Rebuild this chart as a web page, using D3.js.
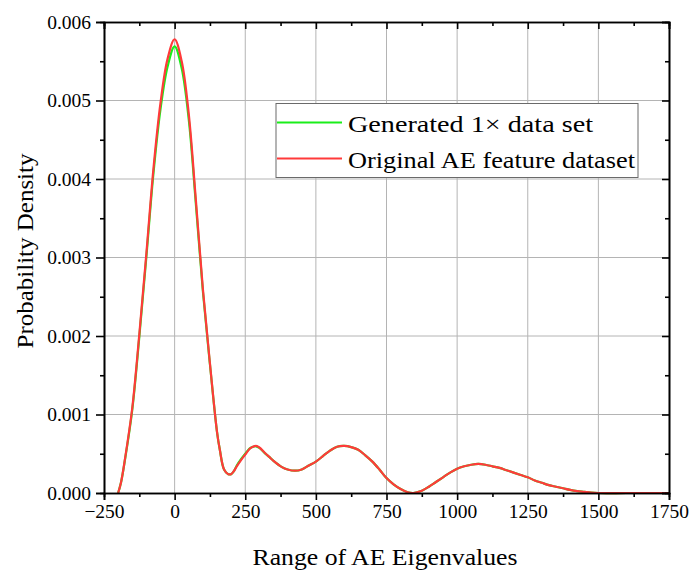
<!DOCTYPE html>
<html>
<head>
<meta charset="utf-8">
<script src="https://cdn.jsdelivr.net/npm/d3@7"></script>
<style>
  body { margin: 0; background: #fff; }
  svg text { font-family: "Liberation Serif", "DejaVu Serif", serif; fill: #000; }
</style>
</head>
<body>
<div id="chart"></div>
<script>
// Values.
var xValues = [-200, -190, -175, -150, -125, -100, -75, -50, -25, 0, 25, 50, 75, 100, 125, 150, 160, 175, 190, 200,
  210, 220, 235, 250, 265, 275, 288, 300, 320, 335, 350, 380, 400, 426, 450, 475, 500, 525, 550, 575, 600, 625, 650, 675,
  700, 725, 750, 775, 800, 825, 845, 875, 900, 925, 950, 975, 1000, 1025, 1050, 1075, 1100, 1125, 1150, 1175,
  1200, 1225, 1250, 1275, 1300, 1325, 1350, 1375, 1400, 1425, 1450, 1475, 1500, 1600, 1750];

var originalDensity = [0, 0.00013, 0.00045, 0.00108, 0.00202, 0.00305, 0.00413, 0.00497, 0.00553, 0.00578, 0.00550,
  0.00483, 0.00374, 0.00260, 0.00165, 0.00078, 0.00055, 0.00030, 0.00024, 0.00024,
  0.00028, 0.00034, 0.00042, 0.00049, 0.00056, 0.000585, 0.00060, 0.00058, 0.00051, 0.00046, 0.00041, 0.00033, 0.00030, 0.000284,
  0.00030, 0.00035, 0.00040, 0.00047, 0.00054, 0.00059, 0.00060, 0.000585, 0.00055, 0.00048,
  0.00040, 0.00030, 0.00019, 0.00011, 0.00005, 0.00001, 0, 0.00003, 0.00008, 0.00014, 0.00020, 0.00026,
  0.00031, 0.00034, 0.00036, 0.00037, 0.00036, 0.00034, 0.00032, 0.00029,
  0.00026, 0.00023, 0.00020, 0.00016, 0.00013, 0.00010, 0.00008, 0.00006, 0.00004, 0.000025, 0.000015, 0.000005,
  0, 0, 0];

var generatedDensity = [0, 0.00013, 0.00044, 0.00106, 0.00199, 0.00301, 0.00407, 0.00489, 0.00543, 0.00569, 0.00541,
  0.00476, 0.00369, 0.00257, 0.00164, 0.00078, 0.00055, 0.00030, 0.00024, 0.00024,
  0.00028, 0.00035, 0.00043, 0.00050, 0.000565, 0.000585, 0.000595, 0.000575, 0.000505, 0.00046, 0.00041, 0.00033, 0.00030, 0.000284,
  0.00030, 0.00035, 0.00040, 0.00047, 0.00054, 0.00059, 0.00060, 0.000585, 0.00055, 0.00048,
  0.00040, 0.00030, 0.00019, 0.00011, 0.00005, 0.00001, 0, 0.00003, 0.00008, 0.00014, 0.00020, 0.00026,
  0.00031, 0.00034, 0.00036, 0.00037, 0.00036, 0.00034, 0.00032, 0.00029,
  0.00026, 0.00023, 0.00020, 0.00016, 0.00013, 0.00010, 0.00008, 0.00006, 0.00004, 0.000025, 0.000015, 0.000005,
  0, 0, 0];

var xTicks = [-250, 0, 250, 500, 750, 1000, 1250, 1500, 1750];
var yTicks = [0, 0.001, 0.002, 0.003, 0.004, 0.005, 0.006];
var seriesNames = ["Generated 1\u00d7 data set", "Original AE feature dataset"];
var seriesColors = ["#1aee1a", "#ff3a3a"];

var width = 689, height = 572;
var margin = {top: 22, right: 20, bottom: 79, left: 104};
var plotW = width - margin.left - margin.right;
var plotH = height - margin.top - margin.bottom;

var svg = d3.select("#chart").append("svg")
  .attr("width", width)
  .attr("height", height);

var g = svg.append("g")
  .attr("transform", "translate(" + margin.left + "," + margin.top + ")");

var x = d3.scaleLinear().domain([-250, 1750]).range([0, plotW]);
var y = d3.scaleLinear().domain([0, 0.006]).range([plotH, 0]);

// minor ticks sit halfway between the majors
var xMinor = xTicks.slice(0, -1).map(function(d) { return d + 125; });
var yMinor = yTicks.slice(0, -1).map(function(d) { return d + 0.0005; });

// Grid lines
g.append("g").selectAll("line")
  .data(xTicks.slice(1, -1))
  .enter().append("line")
  .attr("x1", d => x(d)).attr("x2", d => x(d))
  .attr("y1", 0).attr("y2", plotH)
  .attr("stroke", "#b4b4b4").attr("stroke-width", 1);

g.append("g").selectAll("line")
  .data(yTicks.slice(1, -1))
  .enter().append("line")
  .attr("x1", 0).attr("x2", plotW)
  .attr("y1", d => y(d)).attr("y2", d => y(d))
  .attr("stroke", "#b4b4b4").attr("stroke-width", 1);

// Curves
var line = d3.line()
  .x((d, i) => x(xValues[i]))
  .y(d => y(Math.max(0, d)))
  .curve(d3.curveCatmullRom.alpha(0.5));

[generatedDensity, originalDensity].forEach(function(series, i) {
  g.append("path")
    .datum(series)
    .attr("d", line)
    .attr("fill", "none")
    .attr("stroke", seriesColors[i])
    .attr("stroke-width", 2.2)
    .attr("stroke-linejoin", "round");
});

// Axes
function styleAxis(sel) {
  sel.select(".domain").attr("stroke", "#000").attr("stroke-width", 1.6);
  sel.selectAll(".tick line").attr("stroke", "#000").attr("stroke-width", 1.6);
  sel.selectAll("text").style("font-size", "19.5px").style("font-family", "'Liberation Serif', serif");
}

g.append("g")
  .attr("transform", "translate(0," + plotH + ")")
  .call(d3.axisBottom(x).tickValues(xTicks).tickSize(7).tickPadding(4).tickFormat(d3.format("d")))
  .call(styleAxis);
g.append("g")
  .attr("transform", "translate(0," + plotH + ")")
  .call(d3.axisBottom(x).tickValues(xMinor).tickSize(4).tickFormat(""))
  .call(styleAxis);

g.append("g")
  .call(d3.axisLeft(y).tickValues(yTicks).tickSize(8).tickPadding(5).tickFormat(d3.format(".3f")))
  .call(styleAxis);
g.append("g")
  .call(d3.axisLeft(y).tickValues(yMinor).tickSize(4).tickFormat(""))
  .call(styleAxis);

// mirrored top and right axes with inward ticks
g.append("g")
  .call(d3.axisBottom(x).tickValues(xTicks).tickSize(7).tickFormat(""))
  .call(styleAxis);
g.append("g")
  .call(d3.axisBottom(x).tickValues(xMinor).tickSize(4).tickFormat(""))
  .call(styleAxis);
g.append("g")
  .attr("transform", "translate(" + plotW + ",0)")
  .call(d3.axisLeft(y).tickValues(yTicks).tickSize(7).tickFormat(""))
  .call(styleAxis);
g.append("g")
  .attr("transform", "translate(" + plotW + ",0)")
  .call(d3.axisLeft(y).tickValues(yMinor).tickSize(4).tickFormat(""))
  .call(styleAxis);

// Legend
var legend = svg.append("g").attr("transform", "translate(276,103.5)");
legend.append("rect")
  .attr("width", 362).attr("height", 74)
  .attr("fill", "#fff")
  .attr("stroke", "#6a6a6a").attr("stroke-width", 1);

var legendWidths = [245, 287];
seriesNames.forEach(function(name, i) {
  var row = legend.append("g").attr("transform", "translate(0," + (19 + i * 36) + ")");
  row.append("line")
    .attr("x1", 1).attr("x2", 66)
    .attr("stroke", seriesColors[i]).attr("stroke-width", 2.2);
  row.append("text")
    .attr("x", 72).attr("y", 9.5)
    .attr("textLength", legendWidths[i])
    .attr("lengthAdjust", "spacingAndGlyphs")
    .style("font-size", "24px")
    .text(name);
});

// Axis titles
svg.append("text")
  .attr("x", 385).attr("y", 565)
  .attr("text-anchor", "middle")
  .attr("textLength", 265)
  .attr("lengthAdjust", "spacingAndGlyphs")
  .style("font-size", "22.5px")
  .text("Range of AE Eigenvalues");

svg.append("text")
  .attr("transform", "translate(33,251) rotate(-90)")
  .attr("text-anchor", "middle")
  .attr("textLength", 195)
  .attr("lengthAdjust", "spacingAndGlyphs")
  .style("font-size", "22.5px")
  .text("Probability Density");
</script>
</body>
</html>
